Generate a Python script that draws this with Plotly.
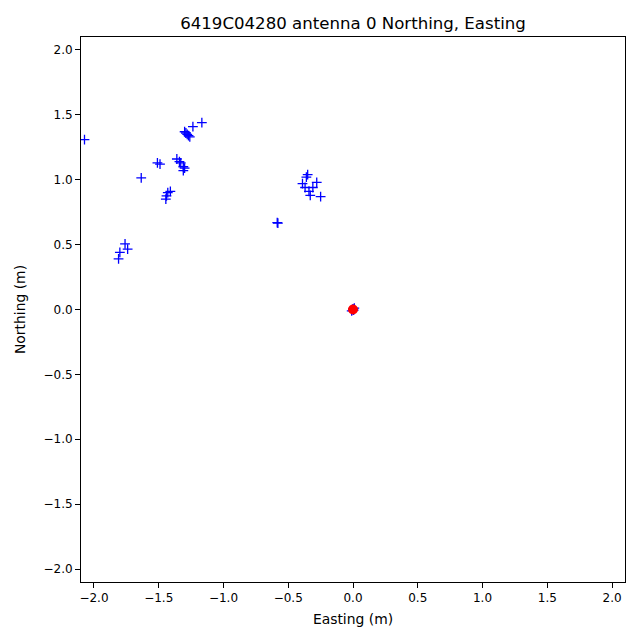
import plotly.graph_objects as go

easting = [-2.073, -1.30, -1.29, -1.28, -1.27, -1.26, -1.236, -1.167,
           -1.51, -1.49, -1.36, -1.34, -1.33, -1.31, -1.30, -1.31,
           -1.635, -1.41, -1.43, -1.44, -1.445,
           -1.76, -1.74, -1.80, -1.81,
           -0.36, -0.35, -0.39, -0.37, -0.34, -0.33, -0.31, -0.28, -0.25, -0.585, -0.58,
           0.0, 0.01, -0.01, 0.0, 0.005]
northing = [1.309, 1.37, 1.36, 1.35, 1.34, 1.33, 1.41, 1.44,
            1.13, 1.12, 1.16, 1.14, 1.13, 1.10, 1.09, 1.07,
            1.015, 0.91, 0.90, 0.875, 0.85,
            0.505, 0.465, 0.44, 0.39,
            1.02, 1.04, 0.97, 0.94, 0.91, 0.88, 0.94, 0.98, 0.87, 0.67, 0.665,
            0.0, 0.01, -0.01, 0.005, -0.005]
ref_e = [0.0]
ref_n = [0.0]
ticks = [-2.0, -1.5, -1.0, -0.5, 0.0, 0.5, 1.0, 1.5, 2.0]
tick_text = [("\u2212" if t < 0 else "") + f"{abs(t):.1f}" for t in ticks]

fig = go.Figure()
fig.add_trace(go.Scatter(x=easting, y=northing, mode="markers",
                         marker=dict(symbol="cross-thin", size=7, color="blue",
                                     line=dict(color="blue", width=1.3)),
                         showlegend=False))
fig.add_trace(go.Scatter(x=ref_e, y=ref_n, mode="markers",
                         marker=dict(symbol="circle", size=10, color="red"),
                         showlegend=False))

axis_common = dict(range=[-2.1, 2.1], tickvals=ticks, ticktext=tick_text,
                   showgrid=False, zeroline=False, showline=True, mirror=True,
                   linecolor="black", linewidth=1, ticks="outside", ticklen=5,
                   tickcolor="black", tickfont=dict(size=12, color="black"))
fig.update_layout(
    width=632, height=632,
    margin=dict(l=70, r=15, t=29, b=58),
    paper_bgcolor="white", plot_bgcolor="white",
    font=dict(family="DejaVu Sans", size=12, color="black"),
    title=dict(text="6419C04280 antenna 0 Northing, Easting", x=0.5, xanchor="center",
               xref="paper", y=1 - 15/632, yanchor="middle", font=dict(size=16.6)),
    xaxis=dict(title=dict(text="Easting (m)", standoff=9, font=dict(size=13.9)), **axis_common),
    yaxis=dict(title=dict(text="Northing (m)", standoff=14, font=dict(size=13.9)), **axis_common),
)
fig.write_html("out.html")
